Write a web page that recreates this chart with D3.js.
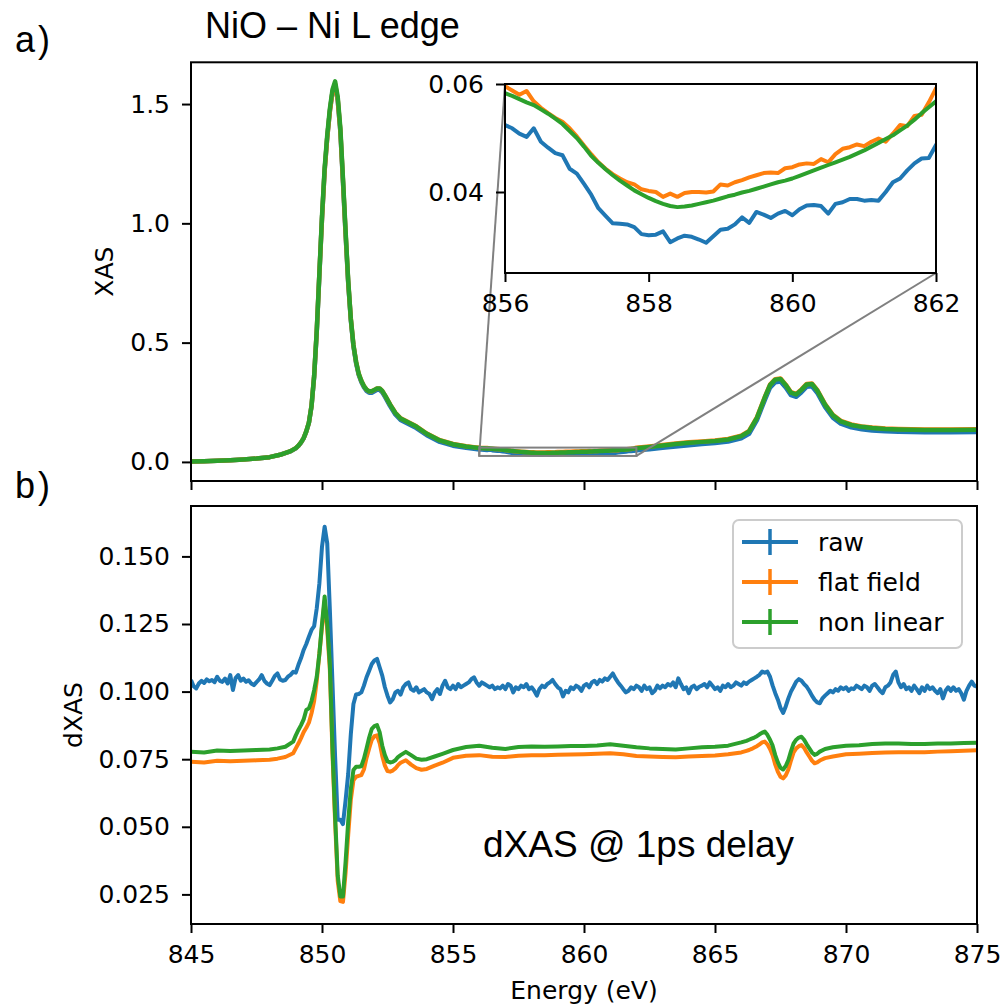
<!DOCTYPE html>
<html>
<head>
<meta charset="utf-8">
<script src="https://cdn.jsdelivr.net/npm/d3@7"></script>
<style>
  body { margin: 0; background: #fff; }
  svg { display: block; }
  .tick text { font-family: 'DejaVu Sans', sans-serif; font-size: 25px; fill: #000; }
  .tick line { stroke: #000; stroke-width: 2; }
  .label { font-family: 'DejaVu Sans', sans-serif; font-size: 25px; fill: #000; }
  .note { font-family: 'Liberation Sans', Arial, sans-serif; fill: #000; }
</style>
</head>
<body>
<div id="chart"></div>
<script>
// ---- series names / colours (legend order) ----
const seriesNames = ['raw', 'flat field', 'non linear']
const seriesColors = ['#1f77b4', '#ff7f0e', '#2ca02c']

// ---- panel a) XAS, energy grid (eV), finer in the zoomed window ----
const xasEnergy = [
  845, 845.5, 846, 846.5, 847, 847.5, 848, 848.4, 848.8,
  849.0, 849.1, 849.2, 849.3, 849.4, 849.5, 849.6, 849.7, 849.8, 849.9,
  850.0, 850.1, 850.2, 850.3, 850.4, 850.5, 850.6, 850.7, 850.8, 850.9,
  851.0, 851.1, 851.2, 851.3, 851.4, 851.5, 851.6, 851.7, 851.8, 851.9,
  852.0, 852.1, 852.2, 852.3, 852.4,
  852.6, 852.8, 853.0, 853.3, 853.6,
  854.0, 854.5, 855.0, 855.5, 855.8,
  856.0, 856.1, 856.2, 856.3, 856.4, 856.5, 856.6, 856.7, 856.8, 856.9,
  857.0, 857.1, 857.2, 857.3, 857.4, 857.5, 857.6, 857.7, 857.8, 857.9,
  858.0, 858.1, 858.2, 858.3, 858.4, 858.5, 858.6, 858.7, 858.8, 858.9,
  859.0, 859.1, 859.2, 859.3, 859.4, 859.5, 859.6, 859.7, 859.8, 859.9,
  860.0, 860.1, 860.2, 860.3, 860.4, 860.5, 860.6, 860.7, 860.8, 860.9,
  861.0, 861.1, 861.2, 861.3, 861.4, 861.5, 861.6, 861.7, 861.8, 861.9,
  862.0,
  862.5, 863, 863.5, 864, 864.5, 865, 865.5,
  866.0, 866.3, 866.6, 866.9,
  867.1, 867.3, 867.5, 867.7, 867.9,
  868.1, 868.3, 868.5, 868.7, 868.9,
  869.2, 869.5, 869.8,
  870.2, 870.6, 871, 871.5, 872, 873, 874, 875
]

const xasRaw = [
  .002, .003, .005, .007, .010, .014, .020, .030, .044,
  .057, .067, .081, .099, .127, .164, .233, .357, .545, .785,
  1.02, 1.22, 1.36, 1.47, 1.55, 1.58, 1.515, 1.385, 1.175, .955,
  .75, .595, .485, .415, .365, .335, .313, .298, .290, .290,
  .296, .302, .302, .292, .274,
  .234, .199, .176, .159, .142,
  .112, .084, .068, .059, .055,
  .0524, .0518, .0508, .0502, .0518, .0493, .0482, .0472, .0468, .0443,
  .0434, .0415, .0395, .0370, .0356, .0342, .0341, .0340, .0335, .0322,
  .0320, .0321, .0327, .0307, .0314, .0319, .0317, .0312, .0306, .0318,
  .0330, .0332, .0340, .0353, .0343, .0363, .0358, .0352, .0360, .0365,
  .0357, .0368, .0375, .0376, .0374, .0360, .0378, .0381, .0387, .0387,
  .0384, .0385, .0384, .0400, .0418, .0425, .0440, .0453, .0462, .0463,
  .0487,
  .053, .059, .065, .070, .075, .079, .085,
  .099, .118, .175, .259,
  .311, .334, .337, .312, .280,
  .273, .292, .315, .317, .290,
  .230, .185, .160,
  .145, .137, .132, .128, .126, .124, .124, .125
]

const xasFlatField = [
  .002, .003, .005, .007, .010, .014, .020, .030, .045,
  .058, .068, .082, .100, .128, .165, .235, .36, .55, .79,
  1.02, 1.22, 1.36, 1.47, 1.55, 1.585, 1.52, 1.39, 1.18, .96,
  .755, .60, .49, .42, .37, .34, .318, .303, .296, .296,
  .302, .308, .308, .298, .280,
  .241, .206, .183, .166, .149,
  .119, .091, .075, .066, .062,
  .0596, .0588, .0580, .0587, .0568, .0556, .0546, .0537, .0530, .0518,
  .0503, .0486, .0470, .0455, .0443, .0433, .0425, .0418, .0414, .0405,
  .0402, .0400, .0391, .0397, .0391, .0398, .0400, .0400, .0399, .0401,
  .0414, .0412, .0418, .0422, .0427, .0431, .0435, .0436, .0435, .0444,
  .0446, .0451, .0453, .0452, .0461, .0455, .0470, .0480, .0483, .0488,
  .0485, .0493, .0499, .0493, .0508, .0524, .0522, .0541, .0543, .0566,
  .0592,
  .065, .071, .077, .082, .086, .090, .096,
  .110, .130, .187, .272,
  .324, .347, .350, .324, .292,
  .285, .304, .327, .329, .302,
  .242, .197, .172,
  .157, .149, .144, .140, .138, .136, .136, .137
]

const xasNonLinear = [
  .002, .003, .005, .007, .010, .014, .020, .030, .045,
  .058, .068, .082, .100, .128, .165, .235, .36, .55, .79,
  1.03, 1.23, 1.37, 1.48, 1.56, 1.595, 1.53, 1.40, 1.19, .97,
  .76, .60, .49, .42, .37, .34, .318, .303, .296, .296,
  .302, .308, .308, .298, .280,
  .240, .205, .182, .165, .148,
  .118, .090, .074, .065, .061,
  .0583, .0578, .0572, .0566, .0561, .0553, .0545, .0536, .0526, .0513,
  .0500, .0484, .0467, .0454, .0442, .0431, .0421, .0412, .0403, .0396,
  .0389, .0383, .0378, .0374, .0372, .0373, .0375, .0378, .0381, .0384,
  .0388, .0392, .0395, .0399, .0402, .0406, .0410, .0414, .0418, .0421,
  .0425, .0430, .0435, .0440, .0445, .0450, .0455, .0460, .0465, .0471,
  .0477, .0484, .0491, .0498, .0505, .0514, .0523, .0534, .0546, .0557,
  .0568,
  .063, .069, .075, .080, .084, .088, .094,
  .108, .128, .185, .270,
  .322, .345, .348, .322, .290,
  .283, .302, .325, .327, .300,
  .240, .195, .170,
  .155, .147, .142, .138, .136, .134, .134, .135
]

// zoomed window shown in the inset
const insetXRange = [856, 862]
const insetYRange = [0.025, 0.06]

// ---- panel b) dXAS @ 1ps ----
// raw: one value every 0.1 eV from 845 eV
const rawStartEnergy = 845
const rawStepEnergy = 0.1
const dxasRaw = [
  .1043, .1020, .1012, .1030, .1040, .1032, .1045, .1038, .1043, .1035,
  .1055, .1040, .1036, .1048, .1030, .1061, .1006, .1050, .1061, .1040,
  .1048, .1036, .1042, .1030, .1024, .1035, .1045, .1061, .1040, .1030,
  .1024, .1040, .1058, .1067, .1045, .1040, .1043, .1055, .1062, .1073,
  .1070, .1099, .1124, .1154, .1176, .1203, .1228, .1242, .1308, .1400,
  .1536, .1610, .1548, .1302, .1031, .0760, .0526, .0526, .0510, .0597,
  .0695, .0843, .0954, .0989, .0991, .0997, .1022, .1053, .1077, .1102,
  .1115, .1121, .1090, .1059, .1016, .0985, .0960, .0972, .0997, .1003,
  .0989, .1016, .1028, .1034, .1009, .1003, .1016, .0997, .1003, .1009,
  .0997, .0991, .0972, .0997, .1009, .0991, .1022, .1040, .1016, .1009,
  .1022, .1009, .1028, .1016, .1022, .1028, .1034, .1046, .1053, .1034,
  .1022, .1034, .1028, .1022, .1016, .1022, .1009, .1016, .1012, .1022,
  .1009, .1028, .1022, .0997, .1016, .1009, .1022, .1016, .1028, .1009,
  .1016, .1003, .0985, .1010, .1022, .1016, .1028, .1034, .1043, .1028,
  .1016, .1009, .0982, .1003, .0997, .1016, .1009, .1022, .1016, .1003,
  .1022, .1028, .1016, .1034, .1040, .1028, .1043, .1037, .1049, .1043,
  .1055, .1067, .1049, .1034, .1022, .1009, .0997, .1003, .1016, .1009,
  .1022, .1016, .1003, .1022, .1009, .1016, .0994, .1003, .1022, .1012,
  .1022, .1016, .1028, .1022, .1034, .1016, .1049, .1028, .1009, .1016,
  .0994, .1016, .1022, .1009, .1018, .1022, .1028, .1016, .1034, .1022,
  .1009, .1016, .1003, .1022, .1016, .1028, .1016, .1022, .1034, .1028,
  .1022, .1034, .1028, .1037, .1043, .1049, .1055, .1062, .1074, .1070,
  .1074, .1055, .1022, .0994, .0970, .0940, .0921, .0945, .0975, .1000,
  .1018, .1037, .1046, .1040, .1028, .1018, .1003, .0985, .0970, .0960,
  .0957, .0975, .0985, .0994, .1003, .0997, .1009, .1003, .1016, .1009,
  .1016, .1003, .1012, .1009, .1022, .1016, .1009, .1022, .1016, .1003,
  .1022, .1028, .1016, .1003, .0994, .1016, .1022, .1034, .1062, .1074,
  .1034, .1016, .1028, .1009, .1016, .1003, .1022, .1009, .0994, .1016,
  .1003, .1022, .1009, .1016, .1003, .0994, .1009, .0975, .1003, .1016,
  .1003, .1016, .1003, .1009, .0994, .0970, .1003, .1022, .1037, .1022,
  .1018
]

// corrected curves share this grid
const dxasEnergy = [
  845, 845.5, 846, 846.5, 847, 847.5, 848, 848.3, 848.6, 848.9,
  849.0, 849.1, 849.2, 849.3, 849.4, 849.5, 849.6, 849.7, 849.8, 849.9,
  850.0, 850.1, 850.2, 850.3, 850.4, 850.5, 850.6, 850.7, 850.8, 850.9,
  851.0, 851.1, 851.2, 851.3, 851.4, 851.5, 851.6, 851.7, 851.8, 851.9,
  852.0, 852.1, 852.2, 852.3, 852.4, 852.5, 852.6, 852.7, 852.8, 852.9,
  853.0, 853.2, 853.4, 853.6, 853.8, 854.0, 854.3, 854.6, 855.0, 855.5,
  856, 856.5, 857, 857.5, 858, 858.5, 859, 859.5, 860, 860.5,
  861, 861.5, 862, 862.5, 863, 863.5, 864, 864.5, 865, 865.5,
  866.0, 866.1, 866.2, 866.3, 866.4, 866.5, 866.6, 866.7, 866.8, 866.9,
  867.0, 867.1, 867.2, 867.3, 867.4, 867.5, 867.6, 867.7, 867.8, 867.9,
  868.0, 868.1, 868.2, 868.3, 868.4, 868.5, 868.6, 868.7, 868.8, 868.9,
  869.0, 869.2, 869.5, 870, 870.5, 871, 871.5, 872, 872.5, 873,
  873.5, 874, 874.5, 875
]

const dxasFlatField = [
  .0741, .0738, .0744, .0742, .0744, .0746, .0748, .0752, .0758, .0772,
  .0790, .0808, .0828, .0850, .0866, .0885, .0920, .0965, .1040, .1140,
  .1240, .1335, .1230, .1080, .0770, .0520, .0300, .0225, .0222, .0330,
  .0470, .0600, .0672, .0685, .0688, .0691, .0712, .0755, .0790, .0822,
  .0835, .0838, .0810, .0762, .0726, .0706, .0704, .0708, .0716, .0728,
  .0737, .0746, .0730, .0717, .0711, .0714, .0726, .0737, .0755, .0763,
  .0765, .0759, .0758, .0763, .0765, .0765, .0766, .0767, .0768, .0770,
  .0772, .0768, .0762, .0760, .0758, .0757, .0760, .0762, .0764, .0768,
  .0775, .0778, .0781, .0784, .0788, .0793, .0798, .0805, .0812, .0815,
  .0805, .0788, .0765, .0730, .0703, .0685, .0679, .0690, .0712, .0745,
  .0775, .0790, .0798, .0802, .0792, .0775, .0760, .0745, .0735, .0738,
  .0745, .0754, .0760, .0768, .0770, .0773, .0775, .0776, .0776, .0776,
  .0778, .0779, .0781, .0783
]

const dxasNonLinear = [
  .0778, .0775, .0782, .0780, .0782, .0784, .0786, .0790, .0796, .0815,
  .0838, .0858, .0876, .0897, .0932, .0938, .0965, .1005, .1055, .1140,
  .1250, .1352, .1250, .1100, .0790, .0540, .0320, .0242, .0242, .0370,
  .0520, .0640, .0710, .0722, .0722, .0724, .0752, .0790, .0830, .0862,
  .0872, .0876, .0850, .0800, .0765, .0742, .0738, .0740, .0746, .0758,
  .0765, .0777, .0765, .0752, .0748, .0750, .0760, .0770, .0784, .0795,
  .0800, .0792, .0788, .0795, .0797, .0796, .0797, .0799, .0799, .0801,
  .0805, .0800, .0794, .0790, .0788, .0786, .0790, .0794, .0796, .0800,
  .0812, .0815, .0818, .0822, .0826, .0830, .0835, .0842, .0848, .0852,
  .0840, .0822, .0800, .0765, .0738, .0718, .0712, .0725, .0747, .0780,
  .0808, .0822, .0830, .0833, .0822, .0805, .0790, .0775, .0766, .0770,
  .0778, .0788, .0794, .0800, .0802, .0806, .0808, .0808, .0806, .0806,
  .0808, .0808, .0810, .0811
]

// ---- ticks ----
const energyTicks = [845, 850, 855, 860, 865, 870, 875]
const xasTicks = [0, 0.5, 1.0, 1.5]
const dxasTicks = [0.025, 0.05, 0.075, 0.1, 0.125, 0.15]
const insetXTicks = [856, 858, 860, 862]
const insetYTicks = [0.04, 0.06]

// ---------------------------------------------------------------
const width = 1004
const height = 1006
const svg = d3.select('#chart').append('svg')
    .attr('width', width)
    .attr('height', height)

const left = 191, right = 977
const topA = 62.3, bottomA = 481
const topB = 506, bottomB = 924
const inset = {left: 505, right: 936, top: 84, bottom: 273}

const x = d3.scaleLinear().domain([845, 875]).range([left, right])
const yA = d3.scaleLinear().domain([-0.08, 1.675]).range([bottomA, topA])
const yB = d3.scaleLinear().domain([0.01405, 0.16864]).range([bottomB, topB])
const xIn = d3.scaleLinear().domain(insetXRange).range([inset.left, inset.right])
const yIn = d3.scaleLinear().domain(insetYRange).range([inset.bottom, inset.top])

const zip = (xs, ys) => xs.map((e, i) => [e, ys[i]])
const rawEnergy = dxasRaw.map((d, i) => rawStartEnergy + i * rawStepEnergy)

const xasSeries = [xasRaw, xasFlatField, xasNonLinear].map(v => zip(xasEnergy, v))
const dxasSeries = [zip(rawEnergy, dxasRaw), zip(dxasEnergy, dxasFlatField), zip(dxasEnergy, dxasNonLinear)]

const defs = svg.append('defs')
function addClip (id, x0, y0, x1, y1) {
    defs.append('clipPath').attr('id', id)
        .append('rect')
        .attr('x', x0).attr('y', y0)
        .attr('width', x1 - x0).attr('height', y1 - y0)
}
addClip('clipA', left, topA, right, bottomA)
addClip('clipB', left, topB, right, bottomB)
addClip('clipIn', inset.left, inset.top, inset.right, inset.bottom)

function drawLines (clip, sx, sy, data, lw) {
    const line = d3.line()
        .defined(d => d[1] != null)
        .x(d => sx(d[0]))
        .y(d => sy(d[1]))
    svg.append('g')
        .attr('clip-path', `url(#${clip})`)
        .selectAll('path')
        .data(data)
        .enter().append('path')
        .attr('d', line)
        .attr('fill', 'none')
        .attr('stroke', (d, i) => seriesColors[i])
        .attr('stroke-width', lw)
        .attr('stroke-linejoin', 'round')
        .attr('stroke-linecap', 'butt')
}

function frame (x0, y0, x1, y1) {
    svg.append('rect')
        .attr('x', x0).attr('y', y0)
        .attr('width', x1 - x0).attr('height', y1 - y0)
        .attr('fill', 'none')
        .attr('stroke', '#000')
        .attr('stroke-width', 2)
}

function axis (gen, tx, ty) {
    const g = svg.append('g')
        .attr('transform', `translate(${tx}, ${ty})`)
        .call(gen)
    g.select('.domain').remove()
    return g
}

// ---- panel a ----
drawLines('clipA', x, yA, xasSeries, 4.5)
frame(left, topA, right, bottomA)

axis(d3.axisLeft(yA).tickValues(xasTicks).tickFormat(d3.format('.1f'))
    .tickSize(9).tickPadding(12), left, 0)
axis(d3.axisBottom(x).tickValues(energyTicks).tickFormat('')
    .tickSize(9), 0, bottomA)

// zoom box + connectors
const zoomBox = {
    x0: x(insetXRange[0]), x1: x(insetXRange[1]),
    y0: yA(insetYRange[1]), y1: yA(insetYRange[0])
}
svg.append('rect')
    .attr('x', zoomBox.x0).attr('y', zoomBox.y0)
    .attr('width', zoomBox.x1 - zoomBox.x0)
    .attr('height', zoomBox.y1 - zoomBox.y0)
    .attr('fill', 'none')
    .attr('stroke', '#808080')
    .attr('stroke-width', 2)
const connectors = [
    [zoomBox.x0, zoomBox.y1, xIn(insetXRange[0]), yIn(insetYRange[1])],
    [zoomBox.x1, zoomBox.y1, xIn(insetXRange[1]), yIn(insetYRange[0])]
]
svg.append('g').selectAll('line')
    .data(connectors)
    .enter().append('line')
    .attr('x1', d => d[0]).attr('y1', d => d[1])
    .attr('x2', d => d[2]).attr('y2', d => d[3])
    .attr('stroke', '#808080')
    .attr('stroke-width', 2)

// inset
svg.append('rect')
    .attr('x', inset.left).attr('y', inset.top)
    .attr('width', inset.right - inset.left)
    .attr('height', inset.bottom - inset.top)
    .attr('fill', '#fff')
drawLines('clipIn', xIn, yIn, xasSeries, 4)
frame(inset.left, inset.top, inset.right, inset.bottom)
axis(d3.axisLeft(yIn).tickValues(insetYTicks).tickFormat(d3.format('.2f'))
    .tickSize(9).tickPadding(12), inset.left, 0)
axis(d3.axisBottom(xIn).tickValues(insetXTicks).tickFormat(d3.format('d'))
    .tickSize(9).tickPadding(12), 0, inset.bottom)

svg.append('text').attr('class', 'label')
    .attr('transform', `translate(113, ${(topA + bottomA) / 2}) rotate(-90)`)
    .attr('text-anchor', 'middle')
    .text('XAS')

// ---- panel b ----
drawLines('clipB', x, yB, dxasSeries, 4)
frame(left, topB, right, bottomB)
axis(d3.axisLeft(yB).tickValues(dxasTicks).tickFormat(d3.format('.3f'))
    .tickSize(9).tickPadding(12), left, 0)
axis(d3.axisBottom(x).tickValues(energyTicks).tickFormat(d3.format('d'))
    .tickSize(9).tickPadding(12), 0, bottomB)

svg.append('text').attr('class', 'label')
    .attr('transform', `translate(82, ${(topB + bottomB) / 2}) rotate(-90)`)
    .attr('text-anchor', 'middle')
    .text('dXAS')
svg.append('text').attr('class', 'label')
    .attr('x', (left + right) / 2).attr('y', 999)
    .attr('text-anchor', 'middle')
    .text('Energy (eV)')

// legend
const legend = svg.append('g')
legend.append('rect')
    .attr('x', 733).attr('y', 520)
    .attr('width', 229).attr('height', 128)
    .attr('rx', 6)
    .attr('fill', '#fff').attr('fill-opacity', 0.8)
    .attr('stroke', '#cccccc').attr('stroke-width', 2)
const items = legend.selectAll('g.item')
    .data(seriesNames)
    .enter().append('g')
    .attr('class', 'item')
    .attr('transform', (d, i) => `translate(0, ${542 + i * 40})`)
items.append('line')
    .attr('x1', 742).attr('x2', 798).attr('y1', 0).attr('y2', 0)
    .attr('stroke', (d, i) => seriesColors[i]).attr('stroke-width', 4)
items.append('line')
    .attr('x1', 770).attr('x2', 770).attr('y1', -13).attr('y2', 13)
    .attr('stroke', (d, i) => seriesColors[i]).attr('stroke-width', 3.5)
items.append('text').attr('class', 'label')
    .attr('x', 818).attr('y', 9)
    .text(d => d)

// ---- annotations ----
svg.append('text').attr('class', 'note')
    .attr('x', 205).attr('y', 38)
    .style('font-size', '36px')
    .text('NiO \u2013 Ni L edge')
svg.append('text').attr('class', 'note')
    .attr('x', 15).attr('y', 52)
    .style('font-size', '36px')
    .style('letter-spacing', '3px')
    .text('a)')
svg.append('text').attr('class', 'note')
    .attr('x', 15).attr('y', 498)
    .style('font-size', '36px')
    .style('letter-spacing', '3px')
    .text('b)')
svg.append('text').attr('class', 'note')
    .attr('x', 483).attr('y', 857)
    .style('font-size', '37px')
    .text('dXAS @ 1ps delay')
</script>
</body>
</html>
